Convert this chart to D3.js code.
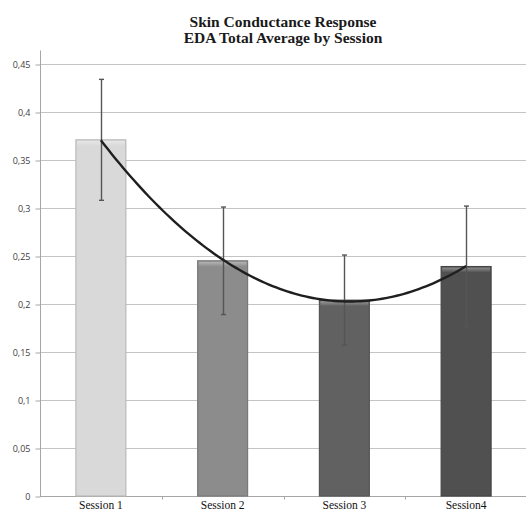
<!DOCTYPE html>
<html>
<head>
<meta charset="utf-8">
<script src="https://cdn.jsdelivr.net/npm/d3@7"></script>
<style>
  html, body { margin: 0; padding: 0; background: #fff; }
  svg { display: block; }
</style>
</head>
<body>
<svg id="chart" width="526" height="512"></svg>
<script>
// Session means and their error margins
const sessions = ["Session 1", "Session 2", "Session 3", "Session4"];
const means = [0.371, 0.245, 0.204, 0.239];
const errors = [0.063, 0.056, 0.047, 0.063];
const barFills = ["#d9d9d9", "#8c8c8c", "#616161", "#505050"];
const barStrokes = ["#b9b9b9", "#7a7a7a", "#555555", "#454545"];
const yTicks = [0, 0.05, 0.1, 0.15, 0.2, 0.25, 0.3, 0.35, 0.4, 0.45];
const titleLines = ["Skin Conductance Response", "EDA Total Average by Session"];

const svg = d3.select("#chart");
const plotLeft = 40, plotRight = 527, plotTop = 64, plotBottom = 496;

const x = d3.scaleBand().domain(sessions).range([plotLeft, plotRight]).paddingInner(0.59).paddingOuter(0.295);
const y = d3.scaleLinear().domain([0, 0.45]).range([plotBottom, plotTop]);
const fmt = v => String(v).replace(".", ",");

// horizontal gridlines
svg.append("g").selectAll("line").data(yTicks.slice(1)).join("line")
  .attr("x1", plotLeft).attr("x2", plotRight)
  .attr("y1", d => Math.round(y(d)) + 0.5).attr("y2", d => Math.round(y(d)) + 0.5)
  .attr("stroke", "#c4c4c4").attr("stroke-width", 1);

// y axis
const yAxis = svg.append("g").attr("transform", `translate(${plotLeft + 0.5},0.5)`)
  .call(d3.axisLeft(y).tickValues(yTicks).tickFormat(fmt).tickSize(5).tickPadding(5));
yAxis.select(".domain").attr("stroke", "#a6a6a6").attr("d", `M0,${plotTop - 14}V${plotBottom}`);
yAxis.selectAll(".tick line").attr("stroke", "#a6a6a6");
yAxis.selectAll(".tick text").attr("fill", "#404040")
  .style("font-family", "'Open Sans', 'Liberation Sans', sans-serif").style("font-size", "9px");

// x axis baseline with category boundary ticks
const xAxis = svg.append("g").attr("transform", `translate(0,${plotBottom + 0.5})`);
xAxis.append("line").attr("x1", plotLeft).attr("x2", plotRight).attr("stroke", "#a6a6a6");
xAxis.selectAll("line.tk").data(d3.range(1, sessions.length)).join("line").attr("class", "tk")
  .attr("x1", i => Math.round(plotLeft + i * x.step()) + 0.5)
  .attr("x2", i => Math.round(plotLeft + i * x.step()) + 0.5)
  .attr("y1", 0).attr("y2", 3).attr("stroke", "#a6a6a6");
xAxis.selectAll("text").data(sessions).join("text")
  .attr("x", d => x(d) + x.bandwidth() / 2).attr("y", 12.5)
  .attr("text-anchor", "middle").attr("fill", "#111")
  .style("font-family", "'Liberation Serif', 'Times New Roman', serif").style("font-size", "11.5px")
  .text(d => d);

// bars with a soft bevel highlight along the top edge
const defs = svg.append("defs");
sessions.forEach((s, i) => {
  const g = defs.append("linearGradient").attr("id", "bev" + i).attr("x1", 0).attr("x2", 0).attr("y1", 0).attr("y2", 1);
  g.append("stop").attr("offset", 0).attr("stop-color", "#ffffff").attr("stop-opacity", 0.35);
  g.append("stop").attr("offset", 1).attr("stop-color", "#ffffff").attr("stop-opacity", 0);
});
const bars = svg.append("g").selectAll("g").data(sessions).join("g");
bars.append("rect")
  .attr("x", d => x(d)).attr("width", x.bandwidth())
  .attr("y", (d, i) => y(means[i])).attr("height", (d, i) => plotBottom - y(means[i]))
  .attr("fill", (d, i) => barFills[i]).attr("stroke", (d, i) => barStrokes[i]).attr("stroke-width", 1.2);
bars.append("rect")
  .attr("x", d => x(d) + 1).attr("width", x.bandwidth() - 2)
  .attr("y", (d, i) => y(means[i]) + 1).attr("height", 5)
  .attr("fill", (d, i) => `url(#bev${i})`);

// error bars
const eb = svg.append("g").attr("stroke", "#555555").attr("stroke-width", 1.4);
sessions.forEach((s, i) => {
  const cx = Math.round(x(s) + x.bandwidth() / 2) + 0.5;
  const hi = y(means[i] + errors[i]), lo = y(means[i] - errors[i]);
  eb.append("line").attr("x1", cx).attr("x2", cx).attr("y1", hi).attr("y2", lo);
  eb.append("line").attr("x1", cx - 2.5).attr("x2", cx + 2.5).attr("y1", hi).attr("y2", hi);
  eb.append("line").attr("x1", cx - 2.5).attr("x2", cx + 2.5).attr("y1", lo).attr("y2", lo);
});

// second-order polynomial trend line (least squares over session index)
const n = means.length;
const xs = d3.range(1, n + 1);
const tm = d3.mean(xs);
const ts = xs.map(v => v - tm);
const qMean = d3.mean(ts.map(t => t * t));
const qs = ts.map(t => t * t - qMean);
const a = d3.mean(means);
const b = d3.sum(ts.map((t, i) => t * means[i])) / d3.sum(ts.map(t => t * t));
const c = d3.sum(qs.map((q, i) => q * means[i])) / d3.sum(qs.map(q => q * q));
const fit = k => { const t = k - tm; return a + b * t + c * (t * t - qMean); };
const xIdx = d3.scaleLinear().domain([1, n])
  .range([x(sessions[0]) + x.bandwidth() / 2, x(sessions[n - 1]) + x.bandwidth() / 2]);
const trendPts = d3.range(0, 101).map(j => 1 + (n - 1) * j / 100);
svg.append("path")
  .attr("d", d3.line().x(k => xIdx(k)).y(k => y(fit(k)))(trendPts))
  .attr("fill", "none").attr("stroke", "#1f1f1f").attr("stroke-width", 2.4);

// title
svg.append("g").selectAll("text").data(titleLines).join("text")
  .attr("x", 283).attr("y", (d, i) => 27 + i * 15.5)
  .attr("text-anchor", "middle").attr("fill", "#1a1a1a")
  .style("font-family", "'Liberation Serif', 'Times New Roman', serif")
  .style("font-size", "15.5px").style("font-weight", "bold")
  .text(d => d);
</script>
</body>
</html>
